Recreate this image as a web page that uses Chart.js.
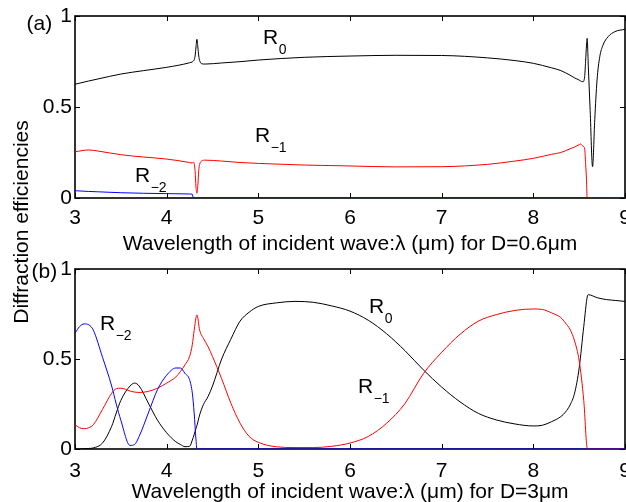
<!DOCTYPE html>
<html>
<head>
<meta charset="utf-8">
<script src="https://cdn.jsdelivr.net/npm/chart.js@4.4.0/dist/chart.umd.min.js"></script>
<style>
html,body{margin:0;padding:0;background:#fff;}
#wrap{position:relative;width:626px;height:502px;overflow:hidden;font-family:"Liberation Sans",Arial,sans-serif;color:#000;}
canvas{position:absolute;left:0;}
.t{position:absolute;white-space:nowrap;font-size:21px;line-height:21px;}
.sb{font-size:14px;position:relative;top:10px;margin-left:0.5px;}
.ctr{transform:translateX(-50%);}
.rot{transform:translate(-50%,-50%) rotate(-90deg);}
</style>
</head>
<body>
<div id="wrap">
  <canvas id="ca" width="626" height="251" style="top:0"></canvas>
  <canvas id="cb" width="626" height="251" style="top:251px"></canvas>

  <div class="t" style="left:26.5px;top:12px">(a)</div>
  <div class="t" style="left:31.5px;top:260px">(b)</div>
  <div class="t rot" style="left:19.5px;top:221.5px">Diffraction efficiencies</div>
  <div class="t ctr" style="left:350px;top:232px">Wavelength of incident wave:λ (μm) for D=0.6μm</div>
  <div class="t ctr" style="left:350px;top:480px">Wavelength of incident wave:λ (μm) for D=3μm</div>

  <div class="t" style="left:263px;top:26px">R<span class="sb">0</span></div>
  <div class="t" style="left:255px;top:124px">R<span class="sb">−1</span></div>
  <div class="t" style="left:135px;top:164px">R<span class="sb">−2</span></div>
  <div class="t" style="left:100px;top:312px">R<span class="sb">−2</span></div>
  <div class="t" style="left:369px;top:295px">R<span class="sb">0</span></div>
  <div class="t" style="left:358px;top:375px">R<span class="sb">−1</span></div>
</div>
<script>
// ---------- Panel (a): D = 0.6 µm ----------
const wavelengthA = [3.0, 3.15, 3.25, 3.5, 3.75, 4.0, 4.25, 4.28, 4.29, 4.3, 4.31, 4.32, 4.33, 4.34, 4.35, 4.36, 4.38, 4.42, 4.6, 4.8, 5.0, 5.5, 6.0, 6.5, 7.0, 7.5, 7.8, 8.0, 8.2, 8.3, 8.4, 8.45, 8.5, 8.515, 8.54, 8.56, 8.57, 8.58, 8.587, 8.6, 8.62, 8.646, 8.67, 8.695, 8.725, 8.76, 8.815, 8.89, 9.0];
const r0A = [0.625, 0.643, 0.654, 0.681, 0.700, 0.718, 0.743, 0.748, 0.752, 0.760, 0.780, 0.830, 0.872, 0.830, 0.780, 0.755, 0.738, 0.736, 0.742, 0.749, 0.758, 0.773, 0.780, 0.784, 0.783, 0.770, 0.755, 0.740, 0.715, 0.700, 0.675, 0.660, 0.648, 0.643, 0.639, 0.667, 0.750, 0.840, 0.877, 0.720, 0.480, 0.172, 0.430, 0.648, 0.777, 0.840, 0.886, 0.914, 0.927];
const rm1A = [0.254, 0.264, 0.258, 0.238, 0.225, 0.214, 0.195, 0.192, 0.198, 0.190, 0.150, 0.060, 0.026, 0.070, 0.150, 0.185, 0.203, 0.208, 0.203, 0.195, 0.190, 0.181, 0.176, 0.171, 0.172, 0.185, 0.203, 0.218, 0.240, 0.250, 0.270, 0.280, 0.293, 0.297, 0.285, 0.270, 0.190, 0.100, 0.0, 0.0, 0.0, 0.0, 0.0, 0.0, 0.0, 0.0, 0.0, 0.0, 0.0];
const rm2A = [0.040, 0.036, 0.034, 0.029, 0.026, 0.024, 0.022, 0.020, 0.0, 0.0, 0.0, 0.0, 0.0, 0.0, 0.0, 0.0, 0.0, 0.0, 0.0, 0.0, 0.0, 0.0, 0.0, 0.0, 0.0, 0.0, 0.0, 0.0, 0.0, 0.0, 0.0, 0.0, 0.0, 0.0, 0.0, 0.0, 0.0, 0.0, 0.0, 0.0, 0.0, 0.0, 0.0, 0.0, 0.0, 0.0, 0.0, 0.0, 0.0];

// ---------- Panel (b): D = 3 µm ----------
const wavelengthB = [3.0, 3.05, 3.1, 3.15, 3.2, 3.3, 3.4, 3.45, 3.5, 3.6, 3.65, 3.7, 3.8, 3.9, 4.0, 4.1, 4.15, 4.2, 4.25, 4.28, 4.3, 4.32, 4.33, 4.36, 4.4, 4.45, 4.5, 4.6, 4.7, 4.8, 4.9, 5.0, 5.2, 5.4, 5.6, 5.8, 6.0, 6.2, 6.4, 6.6, 6.8, 7.0, 7.2, 7.4, 7.6, 7.8, 8.0, 8.1, 8.2, 8.3, 8.35, 8.4, 8.45, 8.5, 8.55, 8.59, 8.6, 8.7, 8.8, 8.9, 9.0];
const r0B = [0.0, 0.0, 0.002, 0.003, 0.006, 0.033, 0.126, 0.200, 0.270, 0.350, 0.366, 0.350, 0.255, 0.160, 0.090, 0.040, 0.025, 0.013, 0.015, 0.050, 0.080, 0.115, 0.130, 0.190, 0.246, 0.290, 0.350, 0.500, 0.610, 0.710, 0.760, 0.792, 0.812, 0.820, 0.815, 0.795, 0.766, 0.715, 0.640, 0.546, 0.440, 0.344, 0.262, 0.198, 0.161, 0.139, 0.128, 0.132, 0.152, 0.180, 0.205, 0.244, 0.310, 0.450, 0.680, 0.850, 0.857, 0.840, 0.830, 0.825, 0.820];
const rm1B = [0.135, 0.118, 0.113, 0.118, 0.135, 0.220, 0.310, 0.335, 0.338, 0.322, 0.316, 0.314, 0.320, 0.338, 0.366, 0.400, 0.430, 0.468, 0.514, 0.580, 0.660, 0.730, 0.745, 0.660, 0.615, 0.570, 0.514, 0.390, 0.255, 0.144, 0.070, 0.037, 0.012, 0.008, 0.008, 0.015, 0.033, 0.070, 0.143, 0.253, 0.418, 0.537, 0.637, 0.710, 0.747, 0.770, 0.778, 0.775, 0.756, 0.730, 0.700, 0.665, 0.600, 0.490, 0.270, 0.0, 0.0, 0.0, 0.0, 0.0, 0.0];
const rm2B = [0.643, 0.680, 0.695, 0.690, 0.660, 0.510, 0.350, 0.250, 0.160, 0.020, 0.025, 0.070, 0.200, 0.330, 0.410, 0.450, 0.450, 0.420, 0.385, 0.310, 0.200, 0.050, 0.0, 0.0, 0.0, 0.0, 0.0, 0.0, 0.0, 0.0, 0.0, 0.0, 0.0, 0.0, 0.0, 0.0, 0.0, 0.0, 0.0, 0.0, 0.0, 0.0, 0.0, 0.0, 0.0, 0.0, 0.0, 0.0, 0.0, 0.0, 0.0, 0.0, 0.0, 0.0, 0.0, 0.0, 0.0, 0.0, 0.0, 0.0, 0.0];

const xTicks = [3, 4, 5, 6, 7, 8, 9];
const yTicks = [0, 0.5, 1];

const FONT = {family: '"Liberation Sans", Arial, sans-serif', size: 21};

const framePlugin = {
  id: 'frame',
  beforeDatasetsDraw(chart) {
    const {ctx, chartArea: a, scales: {x, y}} = chart;
    ctx.save();
    ctx.strokeStyle = '#000';
    ctx.lineWidth = 1.6;
    ctx.strokeRect(a.left, a.top, a.right - a.left, a.bottom - a.top);
    ctx.lineWidth = 1;
    ctx.beginPath();
    x.ticks.forEach(t => {
      const p = Math.round(x.getPixelForValue(t.value)) + 0.5;
      ctx.moveTo(p, a.bottom); ctx.lineTo(p, a.bottom - 5);
      ctx.moveTo(p, a.top); ctx.lineTo(p, a.top + 5);
    });
    y.ticks.forEach(t => {
      const p = Math.round(y.getPixelForValue(t.value)) + 0.5;
      ctx.moveTo(a.left, p); ctx.lineTo(a.left + 5, p);
      ctx.moveTo(a.right, p); ctx.lineTo(a.right - 5, p);
    });
    ctx.stroke();
    ctx.restore();
  }
};

function series(xs, ys) { return xs.map((v, i) => ({x: v, y: ys[i]})); }

function makeChart(id, xs, r0, rm1, rm2, topPad, xPad) {
  const ds = (label, data, color) => ({
    label, data: series(xs, data), borderColor: color, backgroundColor: color,
    borderWidth: 1, pointRadius: 0, fill: false, cubicInterpolationMode: 'monotone'
  });
  return new Chart(document.getElementById(id), {
    type: 'line',
    data: {
      datasets: [
        ds('R−2', rm2, '#0000ff'),
        ds('R−1', rm1, '#ff0000'),
        ds('R0', r0, '#000000')
      ]
    },
    options: {
      responsive: false,
      animation: false,
      events: [],
      layout: {padding: {top: topPad, right: 1, left: 0, bottom: 0}},
      plugins: {legend: {display: false}, tooltip: {enabled: false}},
      scales: {
        x: {
          type: 'linear', min: 3, max: 9,
          grid: {display: false, drawTicks: false},
          border: {display: false},
          afterBuildTicks: s => { s.ticks = xTicks.map(v => ({value: v})); },
          afterFit: s => { s.height = 53; s.paddingLeft = 0; s.paddingRight = 0; },
          ticks: {font: FONT, color: '#000', padding: xPad, maxRotation: 0, autoSkip: false,
                  callback: v => String(v)}
        },
        y: {
          type: 'linear', min: 0, max: 1,
          grid: {display: false, drawTicks: false},
          border: {display: false},
          afterBuildTicks: s => { s.ticks = yTicks.map(v => ({value: v})); },
          afterFit: s => { s.width = 75; },
          ticks: {font: FONT, color: '#000', padding: 3, callback: v => String(v)}
        }
      }
    },
    plugins: [framePlugin]
  });
}

makeChart('ca', wavelengthA, r0A, rm1A, rm2A, 16, 8);
makeChart('cb', wavelengthB, r0B, rm1B, rm2B, 18, 10);
</script>
</body>
</html>
